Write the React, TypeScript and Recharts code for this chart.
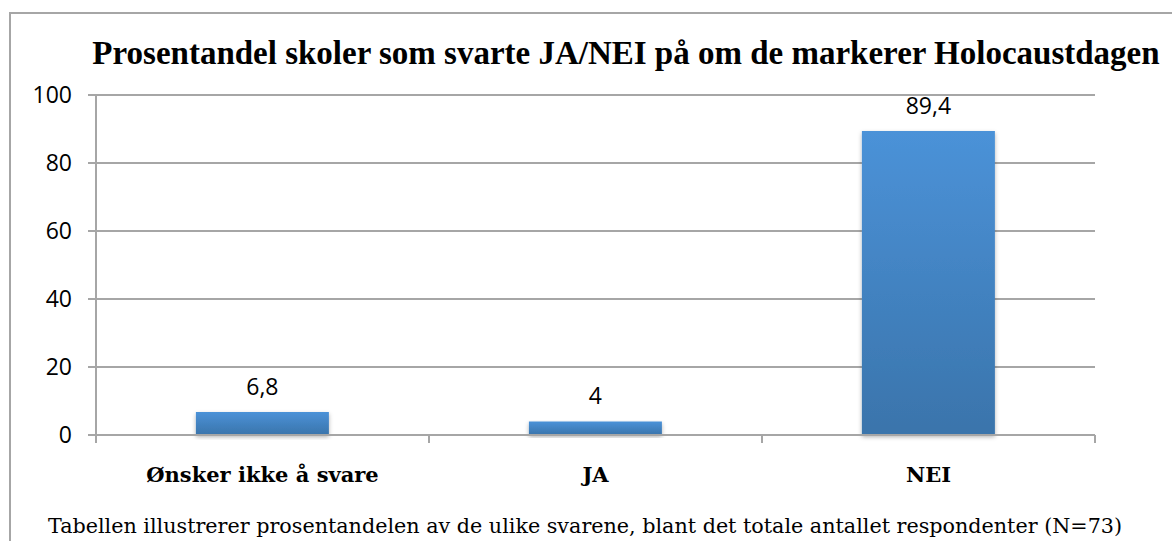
import React from "react";
import { BarChart, Bar, XAxis, YAxis, CartesianGrid, LabelList } from "recharts";

const categories = ["Ønsker ikke å svare", "JA", "NEI"];
const percentValues = [6.8, 4, 89.4];
const yTicks = [0, 20, 40, 60, 80, 100];
const boundaryTicks = [0, 1, 2, 3];
const titleText = "Prosentandel skoler som svarte JA/NEI på om de markerer Holocaustdagen";
const captionText =
  "Tabellen illustrerer prosentandelen av de ulike svarene, blant det totale antallet respondenter (N=73)";

const data = categories.map((c, i) => ({ name: c, value: percentValues[i], pos: i + 0.5 }));

const fmt = (v: any) => String(v).replace(".", ",");

export default function App() {
  return (
    <div style={{ position: "absolute", left: 0, top: 0, width: 1172, height: 541, overflow: "hidden", background: "#fff" }}>
      <div
        style={{
          position: "absolute",
          left: 9,
          top: 12,
          width: 1200,
          height: 600,
          border: "2px solid #a6a6a6",
          boxSizing: "border-box",
        }}
      />
      <div
        style={{
          position: "absolute",
          left: 0,
          top: 35,
          width: 1252,
          textAlign: "center",
          fontFamily: "'Liberation Serif', serif",
          fontWeight: "bold",
          fontSize: 33,
          lineHeight: "normal",
          color: "#000",
          whiteSpace: "nowrap",
        }}
      >
        {titleText}
      </div>
      <div style={{ position: "absolute", left: 0, top: 0 }}>
        <BarChart
          width={1172}
          height={541}
          data={data}
          margin={{ top: 95, right: 77, bottom: 45, left: 0 }}
          barCategoryGap="30%"
        >
          <defs>
            <linearGradient id="barGrad" x1="0" y1="0" x2="0" y2="1">
              <stop offset="0%" stopColor="#4b92d8" />
              <stop offset="100%" stopColor="#3a74ab" />
            </linearGradient>
            <filter id="shadow" x="-10%" y="-10%" width="120%" height="130%">
              <feDropShadow dx="0" dy="2" stdDeviation="2" floodColor="#000" floodOpacity="0.3" />
            </filter>
          </defs>
          <CartesianGrid xAxisId="bnd" vertical={false} stroke="#a6a6a6" strokeWidth={2} />
          <XAxis
            xAxisId="bnd"
            type="number"
            dataKey="pos"
            domain={[0, 3]}
            ticks={boundaryTicks}
            interval={0}
            tickFormatter={() => ""}
            tick={{ fontSize: 1, fill: "transparent" }}
            tickSize={8}
            tickLine={{ stroke: "#a6a6a6", strokeWidth: 2 }}
            axisLine={{ stroke: "#a6a6a6", strokeWidth: 2 }}
            height={1}
          />
          <XAxis
            dataKey="name"
            xAxisId="cat"
            tickLine={false}
            axisLine={false}
            tickMargin={25}
            height={60}
            interval={0}
            tick={{ fontFamily: "'DejaVu Serif', serif", fontWeight: "bold", fontSize: 21, fill: "#000" }}
          />
          <YAxis
            domain={[0, 100]}
            ticks={yTicks}
            width={96}
            tickSize={8}
            tickMargin={16}
            tickLine={{ stroke: "#a6a6a6", strokeWidth: 2 }}
            axisLine={{ stroke: "#a6a6a6", strokeWidth: 2 }}
            tick={{ fontFamily: "'Open Sans', sans-serif", fontSize: 23, fill: "#000" }}
          />
          <Bar
            dataKey="value"
            xAxisId="cat"
            fill="url(#barGrad)"
            filter="url(#shadow)"
            isAnimationActive={false}
          >
            <LabelList
              dataKey="value"
              position="top"
              offset={17}
              formatter={fmt}
              style={{ fontFamily: "'Open Sans', sans-serif", fontSize: 23, fill: "#000" }}
            />
          </Bar>
        </BarChart>
      </div>
      <div
        style={{
          position: "absolute",
          left: 0,
          top: 514,
          width: 1170,
          textAlign: "center",
          fontFamily: "'DejaVu Serif', serif",
          fontSize: 20.7,
          lineHeight: "normal",
          color: "#000",
          whiteSpace: "nowrap",
        }}
      >
        {captionText}
      </div>
    </div>
  );
}
